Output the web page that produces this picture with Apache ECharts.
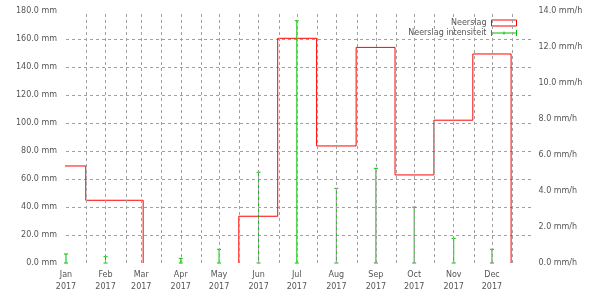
<!DOCTYPE html>
<html>
<head>
<meta charset="utf-8">
<script src="https://cdn.jsdelivr.net/npm/echarts@6/dist/echarts.min.js"></script>
<style>
html,body{margin:0;padding:0;background:#fff;}
#chart{width:610px;height:300px;}
</style>
</head>
<body>
<div id="chart"></div>
<script>
// ---- data ----
var monthDates = ['2017-01-01','2017-02-01','2017-03-01','2017-04-01','2017-05-01','2017-06-01',
                  '2017-07-01','2017-08-01','2017-09-01','2017-10-01','2017-11-01','2017-12-01'];
var monthNames = ['Jan','Feb','Mar','Apr','May','Jun','Jul','Aug','Sep','Oct','Nov','Dec'];
var neerslag = [69.3, 44.8, null, 0, 0, 33.4, 160.5, 83.6, 154.0, 62.9, 102.0, 149.3];       // mm
var intensiteit = [0.5, 0.35, null, 0.26, 0.76, 5.04, 13.46, 4.15, 5.26, 3.1, 1.37, 0.76]; // mm/h
var yearLabel = '2017';
var minorTickDates = ['2017-01-17','2017-02-17','2017-03-17','2017-04-17','2017-05-17','2017-06-17',
                      '2017-07-17','2017-08-17','2017-09-17','2017-10-17','2017-11-17','2017-12-17'];
var xStart = '2017-01-01', xEnd = '2018-01-01';
var leftTicks = {min: 0, max: 180, interval: 20};
var rightTicks = {min: 0, max: 14, interval: 2};

// ---- helpers ----
var DAY = 86400000;
function dayOf(s){ return (Date.parse(s + 'T00:00:00Z') - Date.parse(xStart + 'T00:00:00Z')) / DAY; }
var monthDays = monthDates.map(dayOf);
var xMax = dayOf(xEnd);

// histeps polyline for Neerslag
var pts = [];
for (var i = 0; i < monthDays.length; i++) if (neerslag[i] !== null) pts.push([monthDays[i], neerslag[i]]);
var stepData = [];
for (var k = 0; k < pts.length; k++) {
  var d = pts[k][0], v = pts[k][1];
  var left = k === 0 ? d - (pts[1][0] - d) / 2 : (pts[k-1][0] + d) / 2;
  var right = k === pts.length - 1 ? d + (d - pts[k-1][0]) / 2 : (d + pts[k+1][0]) / 2;
  if (k === 0) stepData.push([left, 0]);
  if (v === 0) {
    stepData.push([left, 0]);
    stepData.push([(left + right) / 2, '-']);
    stepData.push([right, 0]);
  } else {
    stepData.push([left, v]);
    stepData.push([right, v]);
  }
  if (k === pts.length - 1) stepData.push([right, 0]);
}

var errData = [];
for (var j = 0; j < monthDays.length; j++) if (intensiteit[j] !== null) errData.push([monthDays[j], intensiteit[j]]);

var gridLines = monthDays.slice(1).concat(minorTickDates.map(dayOf)).map(function(x){ return {xAxis: x}; });

var GREEN = '#00c000', RED = '#ff0000', GRID = '#a0a0a0', TXT = '#555';
var FONT = 'DejaVu Sans';

var chart = echarts.init(document.getElementById('chart'), null, {renderer: 'canvas'});
chart.setOption({
  animation: false,
  textStyle: {fontFamily: FONT},
  grid: {left: 66, right: 78.5, top: 11, bottom: 37, containLabel: false},
  legend: {
    right: 88, top: 14, orient: 'vertical', align: 'right', itemGap: 2,
    itemWidth: 25, itemHeight: 6,
    textStyle: {fontFamily: FONT, fontSize: 8, color: TXT},
    selectedMode: false,
    data: [
      {name: 'Neerslag', icon: 'rect', itemStyle: {color: 'transparent', borderColor: RED, borderWidth: 1}},
      {name: 'Neerslag intensiteit', icon: 'path://M0,0L0,6M0,3L25,3M12.5,1.5L12.5,4.5M25,0L25,6',
       itemStyle: {color: 'transparent', borderColor: GREEN, borderWidth: 1}}
    ]
  },
  xAxis: {
    type: 'value', min: 0, max: xMax,
    axisLine: {show: false}, axisTick: {show: false}, splitLine: {show: false},
    axisLabel: {
      customValues: monthDays, margin: 6, fontSize: 8, color: TXT, lineHeight: 12, fontFamily: FONT,
      formatter: function(val){
        var idx = monthDays.indexOf(val);
        return (idx >= 0 ? monthNames[idx] : '') + '\n' + yearLabel;
      }
    }
  },
  yAxis: [
    {
      type: 'value', min: leftTicks.min, max: leftTicks.max, interval: leftTicks.interval,
      axisLine: {show: false}, axisTick: {show: false},
      axisLabel: {margin: 9, fontSize: 8, color: TXT, fontFamily: FONT,
        formatter: function(v){ return v.toFixed(1) + ' mm'; }},
      splitLine: {show: true, showMinLine: false, showMaxLine: false,
        lineStyle: {color: GRID, width: 1, type: [3, 3]}}
    },
    {
      type: 'value', min: rightTicks.min, max: rightTicks.max, interval: rightTicks.interval,
      position: 'right',
      axisLine: {show: false}, axisTick: {show: false}, splitLine: {show: false},
      axisLabel: {margin: 7, fontSize: 8, color: TXT, fontFamily: FONT,
        formatter: function(v){ return v.toFixed(1) + ' mm/h'; }}
    }
  ],
  series: [
    {
      name: 'gridlines', type: 'line', data: [], z: 1, silent: true,
      markLine: {
        silent: true, symbol: ['none', 'none'], label: {show: false},
        lineStyle: {color: GRID, width: 1, type: [3, 3]},
        emphasis: {disabled: true},
        data: gridLines
      }
    },
    {
      name: 'Neerslag', type: 'line', data: stepData, yAxisIndex: 0, z: 3,
      showSymbol: false, symbol: 'none', connectNulls: false, clip: true,
      lineStyle: {color: RED, width: 1}, itemStyle: {color: RED}
    },
    {
      name: 'Neerslag intensiteit', type: 'custom', yAxisIndex: 1, z: 4, data: errData,
      itemStyle: {color: GREEN},
      renderItem: function(params, api){
        var x = api.value(0), v = api.value(1);
        var p0 = api.coord([x, 0]), p1 = api.coord([x, v]);
        var st = {stroke: GREEN, lineWidth: 1};
        return {type: 'group', children: [
          {type: 'line', shape: {x1: p0[0], y1: p0[1], x2: p1[0], y2: p1[1]}, style: st},
          {type: 'line', shape: {x1: p1[0]-2, y1: p1[1], x2: p1[0]+2, y2: p1[1]}, style: st},
          {type: 'line', shape: {x1: p0[0]-2, y1: p0[1], x2: p0[0]+2, y2: p0[1]}, style: st}
        ]};
      }
    }
  ]
});
</script>
</body>
</html>
